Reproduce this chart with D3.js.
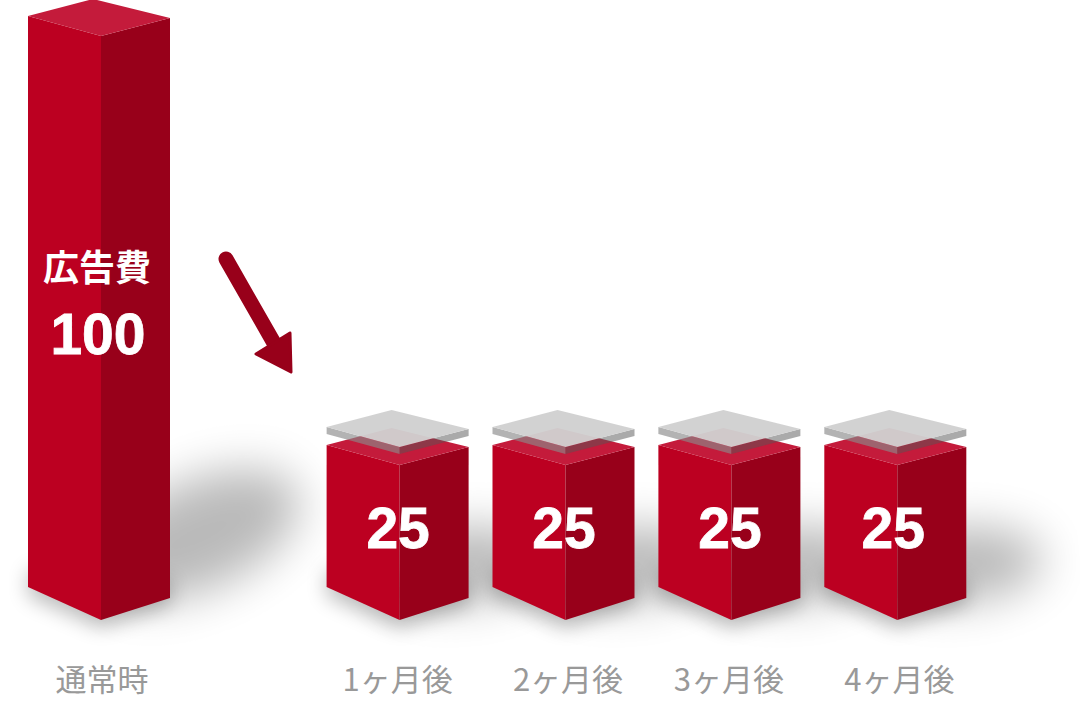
<!DOCTYPE html>
<html>
<head>
<meta charset="utf-8">
<script src="https://cdn.jsdelivr.net/npm/d3@7"></script>
<style>
	html, body { margin: 0; padding: 0; background: #fff; }
	svg { display: block; }
	text { font-family: "Noto Sans CJK JP", "Noto Sans", sans-serif; }
</style>
</head>
<body>
<svg id="chart" width="1080" height="702"></svg>
<script>
var categories = ["通常時", "1ヶ月後", "2ヶ月後", "3ヶ月後", "4ヶ月後"];
var values = [100, 25, 25, 25, 25];
var valueLabels = ["100", "25", "25", "25", "25"];
var unitLabel = "広告費";

// colours of the block faces
var FRONT = "#bc0021", SIDE = "#98001a", TOP = "#c41b3b";

var svg = d3.select("#chart");
var defs = svg.append("defs");
var wide = defs.append("filter").attr("id", "blurWide")
	.attr("filterUnits", "userSpaceOnUse")
	.attr("x", 0).attr("y", 350).attr("width", 1080).attr("height", 352);
wide.append("feGaussianBlur").attr("stdDeviation", 23);
var narrow = defs.append("filter").attr("id", "blurNarrow")
	.attr("filterUnits", "userSpaceOnUse")
	.attr("x", 0).attr("y", 450).attr("width", 1080).attr("height", 252);
narrow.append("feGaussianBlur").attr("stdDeviation", 10);

// first block sits 1.8 slots left of the four month blocks
var slot = d3.scaleLinear().domain([0, 1]).range([399.6, 565.5]);
function slotOf(i) { return i == 0 ? -1.8 : i - 1; }
var y = d3.scaleLinear().domain([0, 100]).range([608, 36]);
var BASE = y(0) + 12;

var data = categories.map(function(c, i) {
	return { name: c, value: values[i], label: valueLabels[i], x: slot(slotOf(i)), i: i };
});

// small hand placement of the texts under and on the blocks
var nameShift = [1, -2, 2.5, -2.5, 2];
var labelShift = [-3, -1.5, -1.5, -1.5, -4];

function pts(list) {
	return list.map(function(p) { return p[0].toFixed(1) + "," + p[1].toFixed(1); }).join(" ");
}
function frontFace(d) {
	var t = y(d.value);
	return [[d.x - 73, t - 20], [d.x, t], [d.x, BASE], [d.x - 73, BASE - 33]];
}
function sideFace(d) {
	var t = y(d.value);
	return [[d.x, t], [d.x + 69, t - 18], [d.x + 69, BASE - 22], [d.x, BASE]];
}
function topFace(d, lift) {
	var t = y(d.value) - (lift || 0);
	return [[d.x - 73, t - 20], [d.x - 8, t - 37], [d.x + 69, t - 18], [d.x, t]];
}

// shadows
function castX(d) { return d.x + (d.i == 0 ? 98 : 62); }
function castY(d) { return d.i == 0 ? 535 : 565; }
var shadows = svg.append("g");
shadows.selectAll("ellipse.cast").data(data).enter().append("ellipse")
	.attr("class", "cast")
	.attr("cx", castX)
	.attr("cy", castY)
	.attr("rx", function(d) { return d.i == 0 ? 108 : 84; })
	.attr("ry", function(d) { return d.i == 0 ? 54 : 38; })
	.attr("fill", "#000")
	.attr("opacity", 0.27)
	.attr("transform", function(d) {
		return "rotate(" + (d.i == 0 ? -24 : -5) + " " + castX(d) + " " + castY(d) + ")";
	})
	.attr("filter", "url(#blurWide)");
shadows.selectAll("polygon.under").data(data).enter().append("polygon")
	.attr("class", "under")
	.attr("points", function(d) {
		return pts([[d.x - 73, BASE - 50], [d.x + 69, BASE - 40], [d.x + 69, BASE - 16], [d.x, BASE + 8], [d.x - 73, BASE - 24]]);
	})
	.attr("fill", "#000")
	.attr("opacity", 0.26)
	.attr("filter", "url(#blurNarrow)");

// blocks
var blocks = svg.append("g").selectAll("g").data(data).enter().append("g");
blocks.append("polygon").attr("points", function(d) { return pts(frontFace(d)); }).attr("fill", FRONT);
blocks.append("polygon").attr("points", function(d) { return pts(sideFace(d)); }).attr("fill", SIDE);
blocks.append("polygon").attr("points", function(d) { return pts(topFace(d)); }).attr("fill", TOP);

// grey plates floating over the month blocks
var plates = svg.append("g").selectAll("g").data(data.slice(1)).enter().append("g");
plates.append("polygon")
	.attr("points", function(d) {
		var t = y(d.value) - 18;
		return pts([[d.x - 73, t - 20], [d.x, t], [d.x, t + 7], [d.x - 73, t - 13]]);
	})
	.attr("fill", "#8a8a8a").attr("fill-opacity", 0.65);
plates.append("polygon")
	.attr("points", function(d) {
		var t = y(d.value) - 18;
		return pts([[d.x, t], [d.x + 69, t - 18], [d.x + 69, t - 11], [d.x, t + 7]]);
	})
	.attr("fill", "#555").attr("fill-opacity", 0.5);
plates.append("polygon")
	.attr("points", function(d) { return pts(topFace(d, 18)); })
	.attr("fill", "#d0d0d0").attr("fill-opacity", 0.96);

// arrow
var arrow = svg.append("g").attr("fill", SIDE).attr("stroke", SIDE);
arrow.append("line")
	.attr("x1", 226).attr("y1", 259).attr("x2", 274).attr("y2", 343)
	.attr("stroke-width", 15).attr("stroke-linecap", "round");
arrow.append("polygon")
	.attr("points", pts([[290, 333], [256, 354], [291, 372]]))
	.attr("stroke-width", 3).attr("stroke-linejoin", "round");

// texts
svg.append("text").text(unitLabel)
	.attr("x", data[0].x - 4).attr("y", 281)
	.attr("text-anchor", "middle").attr("fill", "#fff")
	.attr("font-size", 36).attr("font-weight", 700);
svg.append("g").selectAll("text").data(data).enter().append("text")
	.text(function(d) { return d.label; })
	.attr("x", function(d) { return d.x + labelShift[d.i]; })
	.attr("y", function(d) { return d.i == 0 ? 354 : 548; })
	.attr("text-anchor", "middle").attr("fill", "#fff")
	.attr("stroke", "#fff").attr("stroke-width", 0.8)
	.style("font-family", "'Liberation Sans', sans-serif")
	.attr("font-size", 57).attr("font-weight", 700);
svg.append("g").selectAll("text").data(data).enter().append("text")
	.text(function(d) { return d.name; })
	.attr("x", function(d) { return d.x + nameShift[d.i]; })
	.attr("y", 691)
	.attr("text-anchor", "middle").attr("fill", "#999")
	.attr("font-size", 31).attr("font-weight", 400);
</script>
</body>
</html>
